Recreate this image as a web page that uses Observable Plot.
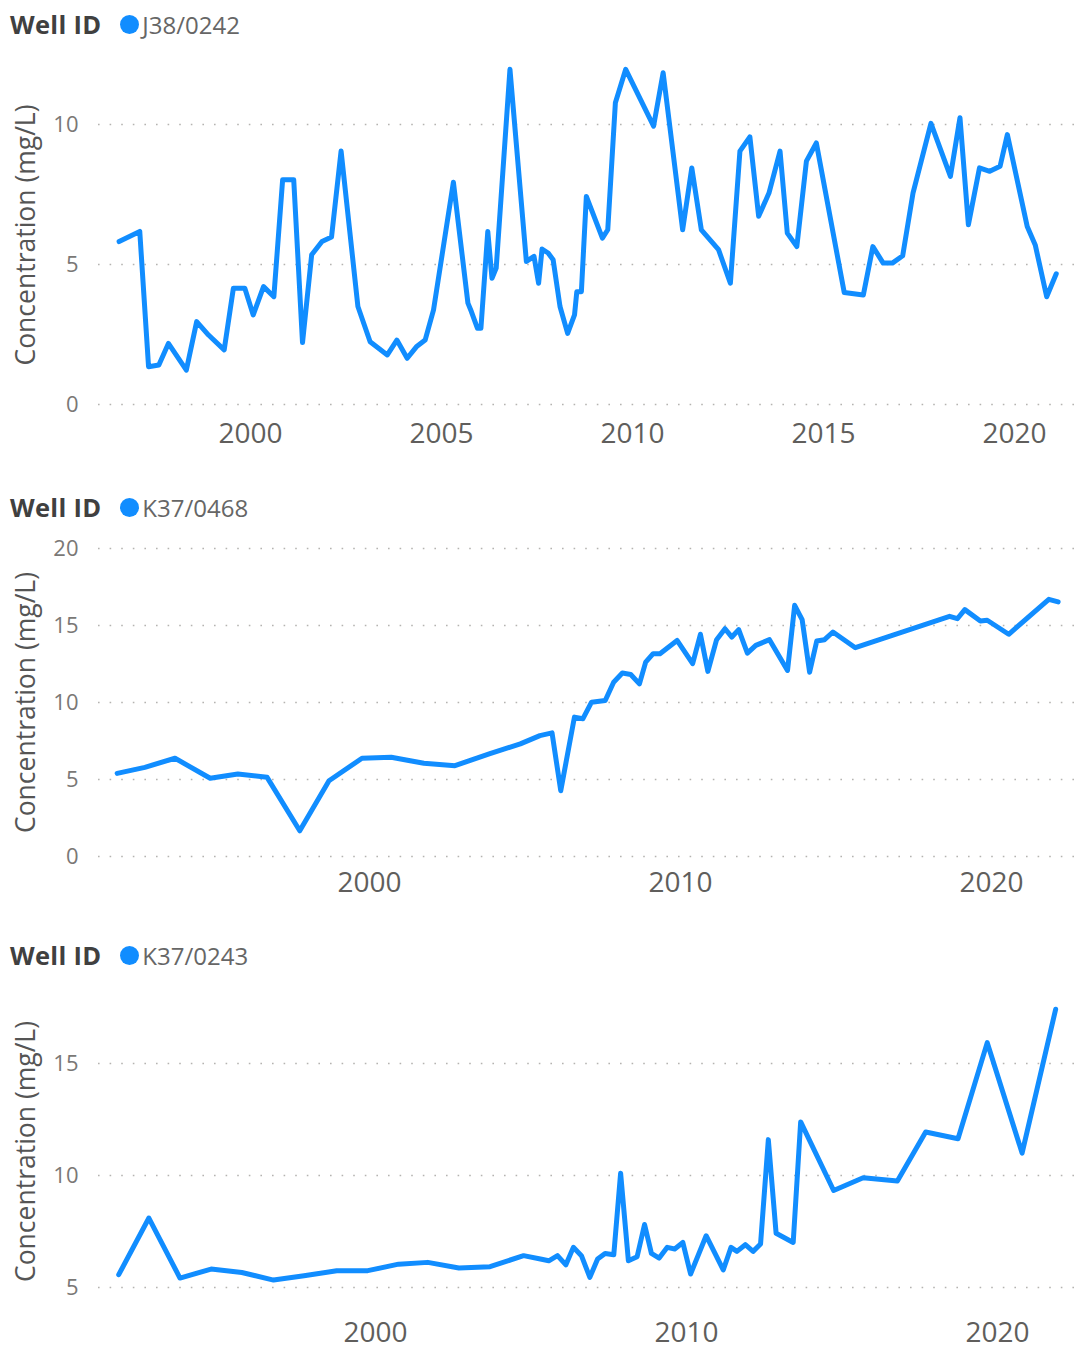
<!DOCTYPE html>
<html><head><meta charset="utf-8">
<script src="https://cdn.jsdelivr.net/npm/d3@7"></script>
<script src="https://cdn.jsdelivr.net/npm/@observablehq/plot@0.6"></script>
<style>
body{margin:0;background:#fff;font-family:"Open Sans","Segoe UI",sans-serif;}
#root{position:relative;width:1076px;height:1349px;overflow:hidden;background:#fff;}
.legend{position:absolute;left:10px;height:30px;display:flex;align-items:center;font-size:24px;color:#666;white-space:nowrap;}
.legend b{color:#404040;font-weight:700;font-size:25.5px;margin-right:19px;letter-spacing:0.3px;}
.legend .dot{width:19px;height:19px;border-radius:50%;background:#118DFF;margin-right:3px;}
.panel{position:absolute;left:0;}
</style></head><body><div id="root"></div>
<script>
const legendTitle = "Well ID";
const yAxisLabel = "Concentration (mg/L)";
const wellIds = ["J38/0242", "K37/0468", "K37/0243"];

const j38Years = [1996.56,1997.10,1997.33,1997.60,1997.85,1998.32,1998.59,1998.90,1999.31,1999.55,1999.85,2000.07,2000.34,2000.61,2000.84,2001.13,2001.36,2001.60,2001.87,2002.12,2002.37,2002.81,2003.13,2003.58,2003.83,2004.10,2004.34,2004.57,2004.79,2005.31,2005.69,2005.78,2005.94,2006.03,2006.21,2006.32,2006.43,2006.79,2007.22,2007.42,2007.54,2007.63,2007.79,2007.92,2008.10,2008.30,2008.48,2008.54,2008.66,2008.79,2009.21,2009.35,2009.55,2009.82,2010.55,2010.80,2011.31,2011.55,2011.80,2012.25,2012.56,2012.81,2013.07,2013.30,2013.57,2013.86,2014.05,2014.30,2014.55,2014.81,2015.54,2016.04,2016.29,2016.56,2016.80,2017.07,2017.34,2017.81,2018.32,2018.57,2018.79,2019.08,2019.35,2019.62,2019.81,2020.33,2020.54,2020.84,2021.09];
const j38Values = [5.82,6.18,1.35,1.41,2.18,1.23,2.96,2.48,1.95,4.15,4.15,3.20,4.21,3.85,8.03,8.03,2.21,5.35,5.82,5.98,9.05,3.50,2.24,1.77,2.30,1.65,2.06,2.30,3.38,7.94,3.62,3.32,2.72,2.72,6.18,4.51,4.87,11.97,5.11,5.29,4.33,5.55,5.41,5.17,3.50,2.54,3.20,4.03,4.03,7.43,5.94,6.24,10.78,11.97,9.94,11.85,6.24,8.45,6.24,5.53,4.33,9.05,9.56,6.72,7.55,9.05,6.12,5.64,8.69,9.34,4.00,3.91,5.64,5.05,5.05,5.31,7.55,10.04,8.15,10.24,6.42,8.45,8.33,8.51,9.64,6.36,5.70,3.85,4.67];

const k0468Years = [1991.89,1992.78,1993.75,1994.88,1995.77,1996.71,1997.76,1998.70,1999.76,2000.70,2001.75,2002.75,2003.85,2004.85,2005.48,2005.87,2006.15,2006.59,2006.86,2007.14,2007.58,2007.85,2008.13,2008.40,2008.68,2008.88,2009.12,2009.34,2009.89,2010.39,2010.64,2010.88,2011.16,2011.43,2011.65,2011.87,2012.15,2012.42,2012.86,2013.44,2013.67,2013.91,2014.15,2014.38,2014.63,2014.90,2015.62,2018.65,2018.90,2019.14,2019.64,2019.86,2020.55,2021.84,2022.14];
const k0468Values = [5.40,5.79,6.38,5.08,5.36,5.14,1.67,4.92,6.38,6.44,6.05,5.90,6.66,7.31,7.85,8.03,4.27,9.05,8.94,10.02,10.13,11.32,11.91,11.82,11.21,12.62,13.17,13.17,14.03,12.52,14.43,12.02,14.08,14.79,14.25,14.73,13.21,13.71,14.08,12.08,16.31,15.38,11.97,13.99,14.08,14.58,13.56,15.60,15.44,16.03,15.29,15.34,14.43,16.70,16.53];

const k0243Years = [1991.74,1992.71,1993.71,1994.71,1995.70,1996.72,1997.70,1998.75,1999.75,2000.74,2001.68,2002.68,2003.68,2004.76,2005.30,2005.57,2005.85,2006.12,2006.36,2006.62,2006.89,2007.14,2007.38,2007.66,2007.88,2008.13,2008.41,2008.65,2008.87,2009.12,2009.38,2009.62,2009.88,2010.13,2010.63,2011.18,2011.43,2011.62,2011.89,2012.14,2012.38,2012.63,2012.88,2013.43,2013.67,2014.73,2015.68,2016.78,2017.69,2018.73,2019.67,2020.79,2021.87];
const k0243Values = [5.57,8.10,5.42,5.82,5.67,5.33,5.52,5.75,5.75,6.04,6.12,5.87,5.93,6.42,6.27,6.19,6.42,6.01,6.79,6.42,5.45,6.27,6.52,6.46,10.10,6.19,6.37,7.81,6.52,6.31,6.79,6.72,7.01,5.60,7.31,5.78,6.79,6.61,6.91,6.61,6.94,11.60,7.42,7.01,12.39,9.33,9.90,9.75,11.94,11.64,15.93,11.00,17.42];

const xTicks1 = [2000, 2005, 2010, 2015, 2020];
const xTicks23 = [2000, 2010, 2020];
const yTicks1 = [0, 5, 10];
const yTicks2 = [0, 5, 10, 15, 20];
const yTicks3 = [5, 10, 15];

const panels = [
  {id: wellIds[0], years: j38Years, values: j38Values, xDomain: [1996.02, 2021.62], yDomain: [0, 12.107], xTicks: xTicks1, yTicks: yTicks1, legendTop: 9, svgTop: 40, height: 414, marginBottom: 50, pad: 19},
  {id: wellIds[1], years: k0468Years, values: k0468Values, xDomain: [1991.29, 2022.73], yDomain: [0, 20], xTicks: xTicks23, yTicks: yTicks2, legendTop: 492, svgTop: 523, height: 383, marginBottom: 50, pad: 16},
  {id: wellIds[2], years: k0243Years, values: k0243Values, xDomain: [1991.09, 2022.54], yDomain: [4.15, 17.99], xTicks: xTicks23, yTicks: yTicks3, legendTop: 940, svgTop: 971, height: 378, marginBottom: 43, pad: 16}
];

const root = document.getElementById("root");
for (const p of panels) {
  const leg = document.createElement("div");
  leg.className = "legend";
  leg.style.top = p.legendTop + "px";
  leg.innerHTML = `<b>${legendTitle}</b><span class="dot"></span><span>${p.id}</span>`;
  root.appendChild(leg);

  const data = p.years.map((x, i) => ({x, y: p.values[i]}));
  const chart = Plot.plot({
    width: 1076, height: p.height,
    marginLeft: 98, marginRight: 0, marginTop: 25, marginBottom: p.marginBottom,
    style: {fontFamily: "'Open Sans', sans-serif", background: "transparent", overflow: "visible"},
    x: {domain: p.xDomain},
    y: {domain: p.yDomain},
    marks: [
      Plot.gridY(p.yTicks, {stroke: "#b5b3b1", strokeOpacity: 1, strokeWidth: 1.6, strokeDasharray: "1.6,10"}),
      Plot.axisY(p.yTicks, {tickSize: 0, tickPadding: 20, fontSize: 22, color: "#7a7876", label: null}),
      Plot.axisX(p.xTicks, {tickSize: 0, tickPadding: p.pad, fontSize: 28, color: "#605e5c", label: null, tickFormat: d3.format("d")}),
      Plot.text([yAxisLabel], {text: d => d, frameAnchor: "left", textAnchor: "middle", rotate: -90, dx: -72, fontSize: 26.5, fill: "#555"}),
      Plot.line(data, {x: "x", y: "y", stroke: "#118DFF", strokeWidth: 5, strokeLinejoin: "round", strokeLinecap: "round"})
    ]
  });
  chart.classList.add("panel");
  chart.style.top = p.svgTop + "px";
  root.appendChild(chart);
}
</script></body></html>
